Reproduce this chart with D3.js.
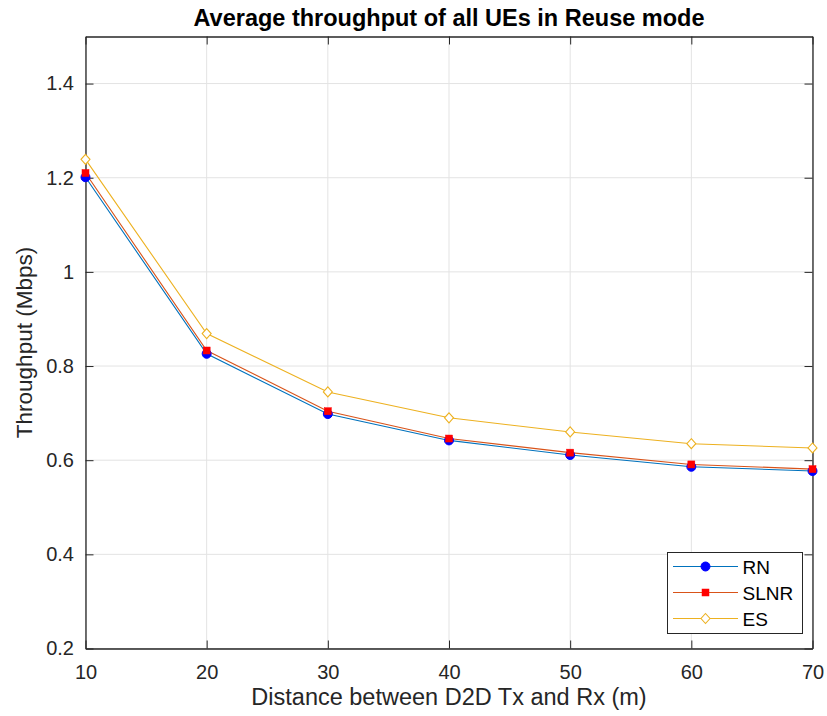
<!DOCTYPE html>
<html><head><meta charset="utf-8">
<script src="https://cdn.jsdelivr.net/npm/d3@7"></script>
<style>body{margin:0;background:#fff}svg{display:block}text{font-family:"Liberation Sans",Arial,sans-serif}</style>
</head><body><svg id="c" width="827" height="716"></svg>
<script>
const distances = [10, 20, 30, 40, 50, 60, 70];
const rnValues = [1.201, 0.826, 0.698, 0.642, 0.611, 0.586, 0.577];
const slnrValues = [1.210, 0.833, 0.704, 0.646, 0.616, 0.591, 0.581];
const esValues = [1.239, 0.869, 0.745, 0.690, 0.660, 0.635, 0.626];
const xTicks = [10, 20, 30, 40, 50, 60, 70];
const yTicks = [0.2, 0.4, 0.6, 0.8, 1.0, 1.2, 1.4];
const seriesNames = ["RN", "SLNR", "ES"];

const svg = d3.select("#c");
const L = 85.5, R = 812.5, T = 36.5, B = 648.5;
const x = d3.scaleLinear().domain([10, 70]).range([L, R]);
const y = d3.scaleLinear().domain([0.2, 1.5]).range([B, T]);

svg.append("rect").attr("width", 827).attr("height", 716).attr("fill", "#fff");

// grid
const g = svg.append("g");
g.selectAll(".gx").data(xTicks).join("line")
  .attr("x1", d => x(d)).attr("x2", d => x(d)).attr("y1", T).attr("y2", B)
  .attr("stroke", "#e3e3e3").attr("stroke-width", 1);
g.selectAll(".gy").data(yTicks).join("line")
  .attr("x1", L).attr("x2", R).attr("y1", d => y(d)).attr("y2", d => y(d))
  .attr("stroke", "#e3e3e3").attr("stroke-width", 1);

// axes
const fmt = d => d === 1 ? "1" : d3.format(".1f")(d);
const ax = svg.append("g").attr("transform", `translate(0,${B})`)
  .call(d3.axisBottom(x).tickValues(xTicks).tickSizeInner(-8).tickSizeOuter(0).tickPadding(16));
const ay = svg.append("g").attr("transform", `translate(${L},0)`)
  .call(d3.axisLeft(y).tickValues(yTicks).tickFormat(fmt).tickSizeInner(-8).tickSizeOuter(0).tickPadding(11.5));
const axTop = svg.append("g").attr("transform", `translate(0,${T})`)
  .call(d3.axisTop(x).tickValues(xTicks).tickSizeInner(-8).tickSizeOuter(0).tickFormat(""));
const ayR = svg.append("g").attr("transform", `translate(${R},0)`)
  .call(d3.axisRight(y).tickValues(yTicks).tickSizeInner(-8).tickSizeOuter(0).tickFormat(""));
[ax, ay, axTop, ayR].forEach(a => {
  a.select(".domain").attr("stroke", "#262626").attr("stroke-width", 1.3);
  a.selectAll(".tick line").attr("stroke", "#262626");
  a.selectAll("text").attr("font-size", 20).attr("fill", "#262626").style("font-family", '"Liberation Sans",Arial,sans-serif');
});

// series
const series = [
  {name: seriesNames[0], vals: rnValues, line: "#0072BD", marker: "circle", fill: "#0000ff", stroke: "#0000ff"},
  {name: seriesNames[1], vals: slnrValues, line: "#D95319", marker: "square", fill: "#ff0000", stroke: "#ff0000"},
  {name: seriesNames[2], vals: esValues, line: "#EDB120", marker: "diamond", fill: "#fff", stroke: "#EDB120"}
];
const lineGen = d3.line().x(d => x(d[0])).y(d => y(d[1]));
function drawMarker(sel, s, cx, cy) {
  if (s.marker === "circle") {
    sel.append("circle").attr("cx", cx).attr("cy", cy).attr("r", 4.5).attr("fill", s.fill).attr("stroke", s.stroke);
  } else if (s.marker === "square") {
    sel.append("rect").attr("x", cx - 3.5).attr("y", cy - 3.5).attr("width", 7).attr("height", 7).attr("fill", s.fill).attr("stroke", s.stroke).attr("stroke-width", 0.5);
  } else {
    sel.append("path").attr("d", `M${cx},${cy-5}L${cx+4.5},${cy}L${cx},${cy+5}L${cx-4.5},${cy}Z`).attr("fill", s.fill).attr("stroke", s.stroke).attr("stroke-width", 1.1);
  }
}
series.forEach(s => {
  const pts = distances.map((d, i) => [d, s.vals[i]]);
  svg.append("path").attr("d", lineGen(pts)).attr("fill", "none").attr("stroke", s.line).attr("stroke-width", 1.1);
});
series.forEach(s => {
  const mg = svg.append("g");
  distances.forEach((d, i) => drawMarker(mg, s, x(d), y(s.vals[i])));
});

// legend
const lg = svg.append("g");
lg.append("rect").attr("x", 667.5).attr("y", 552.5).attr("width", 135).attr("height", 81)
  .attr("fill", "#fff").attr("stroke", "#262626").attr("stroke-width", 1);
series.forEach((s, i) => {
  const ly = 566.5 + i * 26;
  lg.append("line").attr("x1", 673).attr("x2", 738).attr("y1", ly).attr("y2", ly).attr("stroke", s.line).attr("stroke-width", 1.1);
  drawMarker(lg, s, 705.5, ly);
  lg.append("text").attr("x", 742.5).attr("y", ly + 7).attr("font-size", 19).attr("fill", "#000").text(s.name);
});

// titles
svg.append("text").attr("x", (L + R) / 2).attr("y", 26).attr("text-anchor", "middle")
  .attr("font-size", 23.5).attr("font-weight", "bold").attr("fill", "#000").text("Average throughput of all UEs in Reuse mode");
svg.append("text").attr("x", (L + R) / 2).attr("y", 705).attr("text-anchor", "middle")
  .attr("font-size", 23.5).attr("fill", "#262626").text("Distance between D2D Tx and Rx (m)");
svg.append("text").attr("transform", `translate(32,${(T + B) / 2}) rotate(-90)`).attr("text-anchor", "middle")
  .attr("font-size", 22.5).attr("fill", "#262626").text("Throughput (Mbps)");
</script></body></html>
